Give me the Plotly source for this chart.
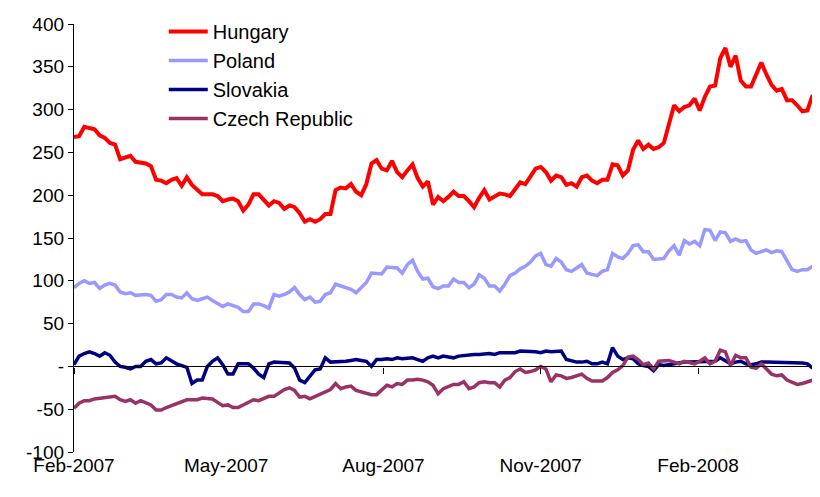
import pandas as pd
import plotly.graph_objects as go

# sampled every 3 days from 1 Feb 2007
dates = pd.date_range("2007-02-01", periods=145, freq="3D")

hungary = [
    268, 269, 280, 278, 277, 270, 267, 261, 259, 242,
    244, 246, 239, 238, 237, 234, 218, 217, 214, 218,
    220, 211, 221, 212, 207, 201, 201, 201, 199, 193,
    195, 196, 193, 182, 189, 201, 201, 195, 188,
    193, 191, 184, 188, 186, 179, 169, 172, 169, 172, 178,
    178, 206, 209, 208, 213, 204, 200, 213, 237, 241,
    231, 229, 240, 227, 221, 229, 236, 220, 210, 216,
    189, 198, 193, 198, 204, 199, 199,
    193, 186, 197, 206, 195, 198, 202, 201, 199, 207,
    215, 213, 223, 231, 233, 227, 217, 223, 221, 212,
    214, 210, 221, 223, 217, 214, 218, 218, 236, 235,
    223, 229, 253, 264, 254, 259, 254, 256,
    261, 285, 305, 298, 303, 305, 313, 299, 315, 327,
    328, 360, 372, 350, 363, 334, 327, 327, 341, 355,
    341, 329, 322, 324, 311, 311, 305, 298, 299, 317,
]
poland = [
    92, 97, 100, 97, 98, 91, 95, 97, 95, 87,
    85, 86, 83, 84, 84, 83, 76, 78, 84, 84,
    81, 80, 86, 79, 77, 79, 81, 77, 73, 70,
    73, 71, 69, 64, 64, 73, 73, 71, 68,
    84, 82, 84, 87, 92, 84, 78, 81, 75, 76, 84,
    86, 96, 94, 92, 90, 86, 92, 98, 109, 109,
    108, 116, 116, 115, 109, 119, 124, 111, 102, 103,
    93, 91, 94, 94, 102, 98, 98,
    92, 96, 107, 103, 94, 94, 88, 96, 106, 109,
    114, 117, 122, 129, 132, 119, 117, 126, 122, 113,
    111, 115, 119, 109, 108, 106, 111, 113, 132, 128,
    126, 132, 141, 142, 134, 134, 125, 126,
    126, 135, 141, 130, 147, 143, 146, 141, 160, 159,
    147, 157, 156, 146, 149, 146, 147, 136, 132, 134,
    136, 133, 135, 134, 123, 113, 111, 113, 113, 117,
]
slovakia = [
    2, 12, 15, 17, 15, 12, 16, 13, 5, 0,
    -1, -3, 0, 0, 6, 8, 3, 4, 10, 6,
    3, 1, -1, -20, -16, -16, 0, 6, 10, 2,
    -9, -9, 3, 3, 3, -2, -9, -13, 3,
    5, 5, 5, 4, -2, -16, -19, -12, -4, -3, 10,
    5, 5, 5, 6, 7, 8, 7, 6, 0, 8,
    8, 9, 8, 10, 9, 9, 10, 8, 6, 10,
    12, 10, 12, 11, 10, 12, 13,
    13, 14, 14, 15, 15, 14, 16, 16, 16, 16,
    18, 18, 17, 17, 16, 18, 17, 17, 18, 8,
    6, 5, 5, 6, 3, 3, 5, 3, 22, 12,
    8, 10, 9, 3, 1, 0, -5, 2,
    1, 2, 4, 5, 5, 5, 5, 5, 5, 5,
    6, 10, 6, 3, 5, 6, 3, 2, 3, 5,
    5, 5, 5, 5, 5, 5, 5, 4, 3, -2,
]
czech = [
    -49, -43, -40, -40, -38, -37, -36, -35, -35, -39,
    -41, -39, -43, -40, -43, -45, -51, -51, -48, -46,
    -44, -41, -39, -39, -39, -37, -38, -38, -42, -46,
    -45, -48, -48, -45, -41, -39, -40, -37, -35,
    -35, -31, -27, -25, -28, -36, -35, -38, -35, -32, -29,
    -27, -20, -26, -24, -23, -28, -30, -32, -33, -33,
    -28, -22, -24, -20, -21, -16, -16, -15, -16, -18,
    -22, -32, -26, -24, -21, -21, -18,
    -26, -24, -19, -18, -19, -19, -24, -16, -13, -6,
    -3, -7, -6, -4, 0, -3, -18, -10, -11, -14,
    -13, -11, -9, -14, -17, -17, -17, -13, -7, -4,
    1, 11, 12, 8, 2, 4, -3, 6,
    6, 7, 5, 3, 6, 5, 3, 6, 10, 3,
    6, 19, 17, 1, 13, 10, 10, -1, -2, 3,
    -3, -9, -11, -10, -16, -19, -21, -20, -18, -16,
]

tick_dates = ["2007-02-01", "2007-05-01", "2007-08-01", "2007-11-01", "2008-02-01"]
tick_text = ["Feb-2007", "May-2007", "Aug-2007", "Nov-2007", "Feb-2008"]
y_ticks = list(range(-100, 401, 50))
y_text = ["-" if v == 0 else str(v) for v in y_ticks]

series = [
    ("Hungary", hungary, "#FF0000", 4),
    ("Poland", poland, "#9999FF", 3.5),
    ("Slovakia", slovakia, "#000080", 3.5),
    ("Czech Republic", czech, "#993366", 3.5),
]

fig = go.Figure()
for name, vals, color, w in series:
    fig.add_trace(go.Scatter(x=dates, y=vals, name=name, legendgroup=name,
                             mode="lines", line=dict(color=color, width=w)))

# helper trace so the zero-line axis gets drawn
fig.add_trace(go.Scatter(x=dates[:1], y=[0], xaxis="x2", mode="lines",
                         showlegend=False, hoverinfo="skip"))

x_range = ["2007-02-01", "2008-04-10"]
font = "Arial, Liberation Sans, sans-serif"

# page body has an 8px margin, so the figure is 8px smaller each way
fig.update_layout(
    width=812, height=489,
    margin=dict(l=66, r=4, t=6, b=45),
    paper_bgcolor="white", plot_bgcolor="white",
    font=dict(family=font, size=19, color="black"),
    showlegend=True,
    legend=dict(x=0.121, y=1.028, xanchor="left", yanchor="top",
                bgcolor="rgba(0,0,0,0)", font=dict(size=20),
                itemwidth=39, tracegroupgap=0),
    xaxis=dict(type="date", range=x_range, tickvals=tick_dates, ticktext=tick_text,
               showgrid=False, zeroline=False, showline=False, ticks=""),
    xaxis2=dict(type="date", range=x_range, overlaying="x", anchor="free",
                position=0.2, tickvals=tick_dates, showticklabels=False,
                showline=True, linecolor="black", linewidth=1.3,
                ticks="outside", ticklen=6, tickcolor="black", tickwidth=1.3,
                showgrid=False, zeroline=False),
    yaxis=dict(range=[-100, 400], tickvals=y_ticks, ticktext=y_text,
               ticklabeloverflow="allow",
               showgrid=False, zeroline=False, showline=True, linecolor="black",
               linewidth=1.3, ticks="outside", ticklen=5, tickcolor="black"),
)

fig.write_html("out.html")
